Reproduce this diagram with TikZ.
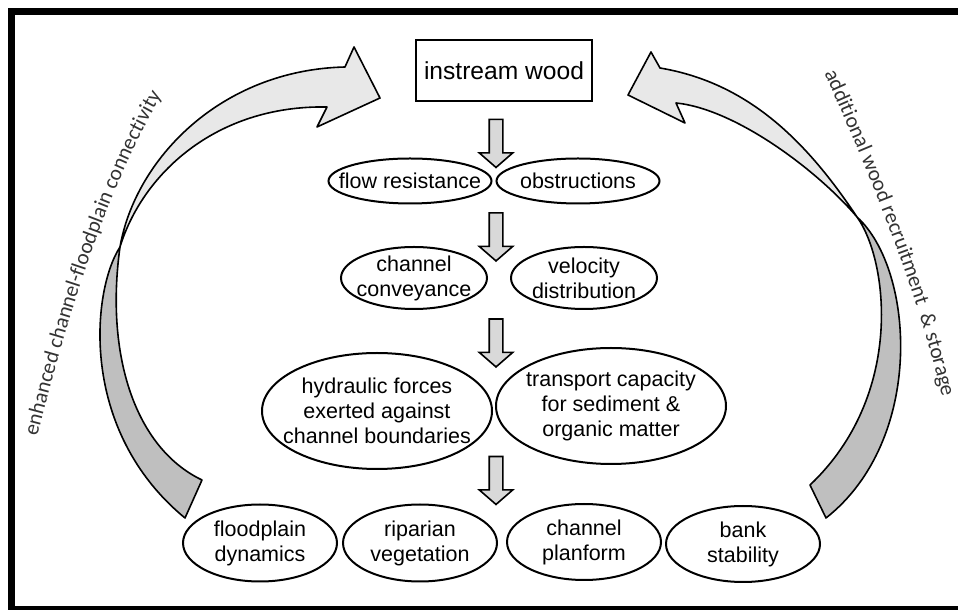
\documentclass[tikz,border=0pt]{standalone}
\usepackage{fontspec}
\setmainfont{Liberation Sans}
\newfontfamily\arcfont{Carlito}
\usepackage{tikz}
\usetikzlibrary{shapes.geometric,shapes.arrows,decorations.text}
\tikzstyle{box} = [draw, rectangle, line width=1pt, minimum width=88pt, minimum height=30.5pt, font=\fontsize{12.3}{14}\selectfont]
\tikzstyle{oval} = [draw, ellipse, line width=1pt, inner sep=-40pt, align=center, font=\fontsize{10.75}{12.5}\selectfont]
\tikzstyle{downarrow} = [draw, fill=black!15, line width=0.8pt, single arrow, shape border rotate=270, inner sep=3pt, minimum height=24pt, single arrow head extend=5pt, single arrow tip angle=98]
\tikzstyle{ribbon} = [draw, line width=0.8pt, line join=round]
\tikzstyle{arclabel} = [decorate, decoration={text along path, text align=center, text color=black!80}]

\begin{document}
\begin{tikzpicture}[x=0.5pt, y=0.5pt]
		\useasboundingbox (0,0) rectangle (958,610);
		\clip (0,0) rectangle (958,610);
		\draw [line width=3.5pt] (11.5,0.5) rectangle (970,598.5);

		\filldraw [ribbon, fill=black!25] (120,363) .. controls (92,320) and (78,180) .. (185,92) -- (202,130) .. controls (135,162) and (105,255) .. cycle;
		\filldraw [ribbon, fill=black!9] (120,363) .. controls (135,450) and (220,540) .. (345,543) -- (354,563) -- (380,512) -- (317,483) -- (327,503) .. controls (215,505) and (142,435) .. cycle;
		\filldraw [ribbon, fill=black!25] (857,393) .. controls (888,350) and (905,215) .. (810,125) -- (826,92) .. controls (925,170) and (915,340) .. cycle;
		\filldraw [ribbon, fill=black!9] (857,393) .. controls (807,468) and (749,527) .. (660,542) -- (651,558) -- (628,515) -- (685,487) -- (676,507) .. controls (736,501) and (818,439) .. cycle;

		\path [arclabel, decoration={text={|\arcfont\fontsize{10.7}{12}\selectfont|enhanced channel-floodplain connectivity}}] (35,165) .. controls (66,286) and (102,414) .. (166,522);
		\path [arclabel, decoration={text={|\arcfont\fontsize{10.7}{12}\selectfont|additional wood recruitment {\ }{\&} storage}}] (821,544) .. controls (866,445) and (918,320) .. (944,205);

		\node [box] (wood) at (504,539.5) {instream wood};

		\node [downarrow] (arr1) at (496,469.5) {};
		\node [oval, minimum width=81.5pt, minimum height=22.5pt] (flowres) at (410,429) {flow resistance};
		\node [oval, minimum width=81.5pt, minimum height=22.5pt] (obstr) at (578,429) {obstructions};

		\node [downarrow] (arr2) at (496,376) {};
		\node [oval, minimum width=73pt, minimum height=31pt] (conv) at (414,332) {channel\\conveyance};
		\node [oval, minimum width=73pt, minimum height=31pt] (veloc) at (584,332) {velocity\\distribution};

		\node [downarrow] (arr3) at (496,270) {};
		\node [oval, minimum width=115pt, minimum height=58pt] (hydro) at (377,199) {hydraulic forces\\exerted against\\channel boundaries};
		\node [oval, minimum width=115pt, minimum height=58pt] (transp) at (611,204) {transport capacity\\for sediment \&\\organic matter};

		\node [downarrow] (arr4) at (496,132.5) {};
		\node [oval, minimum width=77pt, minimum height=38.5pt] (flood) at (260,67) {floodplain\\dynamics};
		\node [oval, minimum width=77pt, minimum height=38.5pt] (ripar) at (420,67) {riparian\\vegetation};
		\node [oval, minimum width=77pt, minimum height=38pt] (planf) at (584,68) {channel\\planform};
		\node [oval, minimum width=77pt, minimum height=38pt] (bank) at (743,66) {bank\\stability};
	\end{tikzpicture}
\end{document}
